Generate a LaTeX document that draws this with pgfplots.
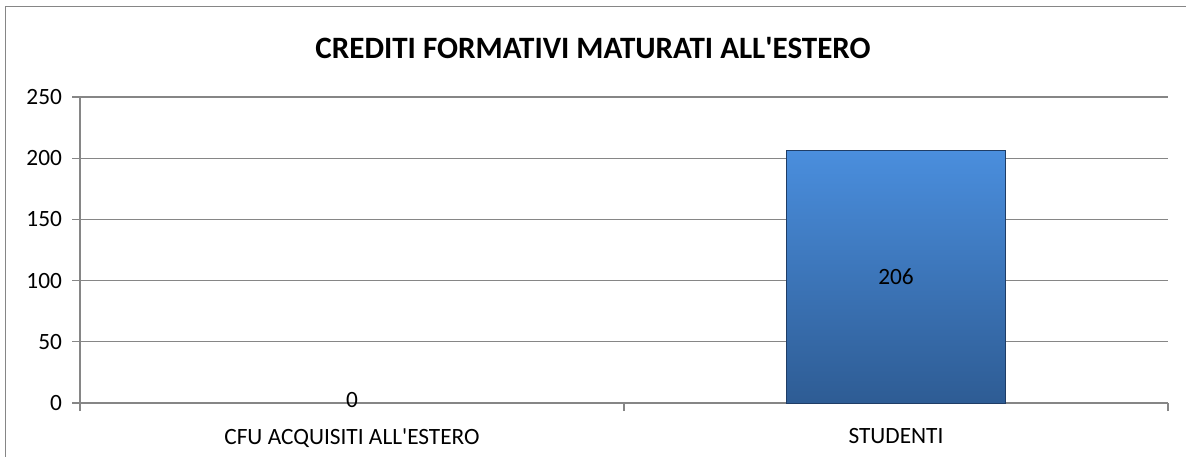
\documentclass[border=0pt]{standalone}
\usepackage{pgfplots}
\pgfplotsset{compat=1.18}
\usepackage{fontspec}
\setmainfont{Carlito}
\definecolor{gridgray}{HTML}{868686}
\definecolor{bartop}{HTML}{4A8EDD}
\definecolor{barbot}{HTML}{2E5C94}
\definecolor{baredge}{HTML}{1F3D66}
\begin{document}
\begin{tikzpicture}
\useasboundingbox (0pt,0pt) rectangle (889.5pt,342.75pt);
\draw[gridgray, line width=1.2pt] (4.125pt,0pt) -- (4.125pt,337.875pt) -- (889.5pt,337.875pt);
\node[font=\fontsize{23.3}{26}\selectfont\bfseries] at (444.75pt,306.75pt) {CREDITI FORMATIVI MATURATI ALL\textquotesingle ESTERO};
\begin{axis}[
  at={(60pt,40.5pt)}, anchor=south west,
  scale only axis, width=816pt, height=229.5pt,
  xmin=-0.5, xmax=1.5, ymin=0, ymax=250,
  ytick={0,50,...,250},
  xtick={-0.5,0.5,1.5}, xticklabels={},
  extra x ticks={0,1}, extra x tick labels={CFU ACQUISITI ALL\textquotesingle ESTERO, STUDENTI},
  extra x tick style={major tick length=0pt, tick style={draw=none}},
  axis x line*=bottom, axis y line*=left,
  axis line style={draw=gridgray, line width=0.9pt, -},
  tick align=outside, major tick length=6pt,
  tick style={draw=gridgray, line width=0.9pt},
  ymajorgrids, major grid style={draw=gridgray, line width=0.9pt},
  tick label style={font=\fontsize{17.5}{20}\selectfont, text=black},
  yticklabel style={xshift=-4pt},
  xticklabel style={yshift=-15.5pt},
  /pgf/number format/assume math mode=true,
  clip=false,
]
\addplot[ybar, bar width=0.403, bar shift=0pt, draw=baredge, line width=0.6pt,
  top color=bartop, bottom color=barbot] coordinates {(1,206)};
\addplot[only marks, mark=none, nodes near coords, point meta=explicit symbolic,
  every node near coord/.append style={anchor=center, font=\fontsize{17.5}{20}\selectfont, inner sep=0pt}]
  coordinates {(1,103) [206]};
\addplot[only marks, mark=none, nodes near coords, point meta=explicit symbolic,
  every node near coord/.append style={anchor=center, yshift=2pt, font=\fontsize{17.5}{20}\selectfont, inner sep=0pt}]
  coordinates {(0,0) [0]};
\end{axis}
\end{tikzpicture}
\end{document}
